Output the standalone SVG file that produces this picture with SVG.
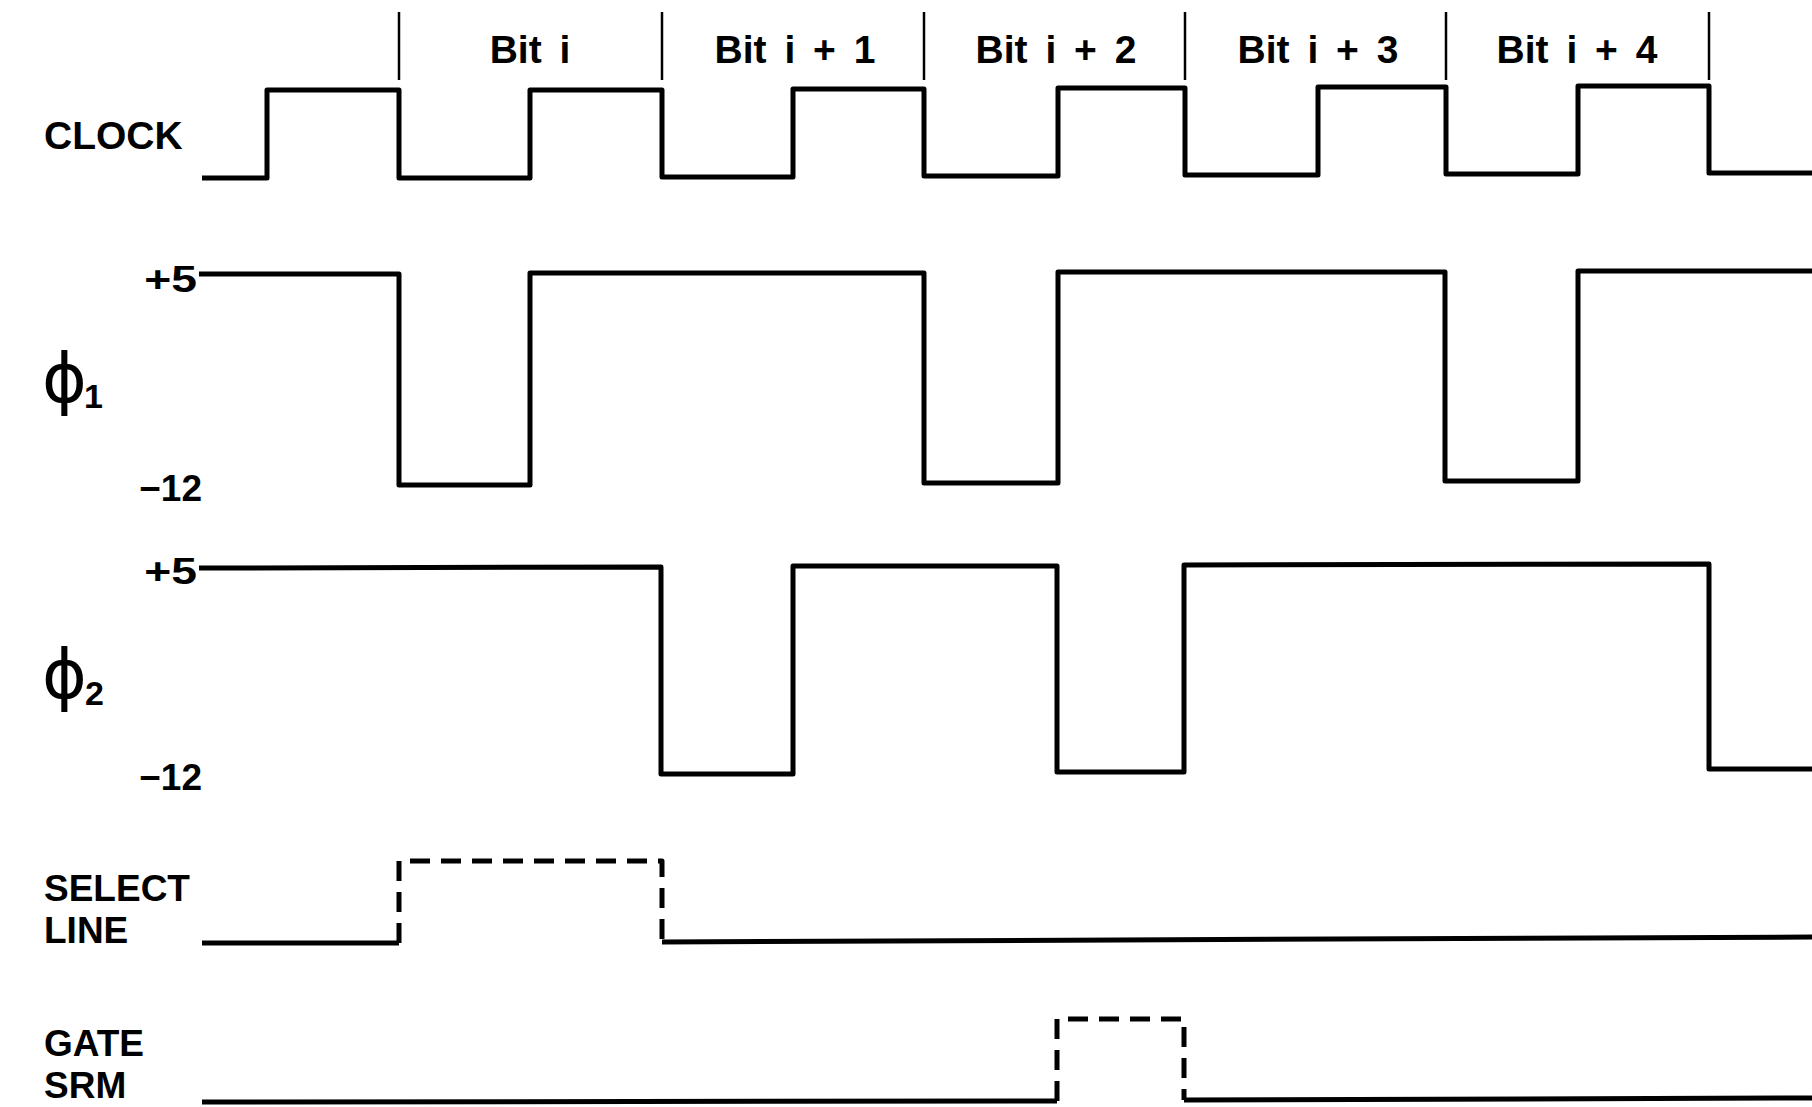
<svg xmlns="http://www.w3.org/2000/svg" width="1812" height="1107" viewBox="0 0 1812 1107">
<style>
.w{fill:none;stroke:#000;stroke-width:5;stroke-linejoin:round;stroke-linecap:butt}
.d{fill:none;stroke:#000;stroke-width:5;stroke-dasharray:20 11;stroke-linejoin:round}
.t{fill:none;stroke:#000;stroke-width:2.5}
.lab{font-family:"Liberation Sans",Arial,sans-serif;font-weight:bold;font-size:39px;fill:#000}
.lab2{font-family:"Liberation Sans",Arial,sans-serif;font-weight:bold;font-size:37px;fill:#000}
.bit{font-family:"Liberation Sans",Arial,sans-serif;font-weight:bold;font-size:39px;fill:#000;text-anchor:middle;word-spacing:7px}
.num{font-family:"Liberation Sans",Arial,sans-serif;font-weight:bold;font-size:37px;fill:#000;text-anchor:end}
.phi{font-family:"DejaVu Sans",sans-serif;font-size:68px;fill:#000}
.sub{font-family:"Liberation Sans",Arial,sans-serif;font-weight:bold;font-size:34px;fill:#000}
</style>
<rect width="1812" height="1107" fill="#fff"/>
<g id="bit-markers">
<line class="t" x1="399" y1="12" x2="399" y2="80"/>
<line class="t" x1="662" y1="12" x2="662" y2="80"/>
<line class="t" x1="924" y1="12" x2="924" y2="80"/>
<line class="t" x1="1185" y1="12" x2="1185" y2="80"/>
<line class="t" x1="1446" y1="12" x2="1446" y2="80"/>
<line class="t" x1="1709" y1="12" x2="1709" y2="80"/>
<text class="bit" x="530" y="63">Bit i</text>
<text class="bit" x="795" y="63">Bit i + 1</text>
<text class="bit" x="1056" y="63">Bit i + 2</text>
<text class="bit" x="1318" y="63">Bit i + 3</text>
<text class="bit" x="1577" y="63">Bit i + 4</text>
</g>
<g id="clock">
<text class="lab" x="44" y="149">CLOCK</text>
<polyline class="w" points="202,178 267,178 267,90 399,90 399,178 530,178 530,90 662,90 662,177 793,177 793,89 924,89 924,176 1058,176 1058,88 1185,88 1185,175 1318,175 1318,87 1446,87 1446,174 1578,174 1578,86 1709,86 1709,173 1812,173"/>
</g>
<g id="phi1">
<text class="phi" x="42" y="402">ϕ</text>
<text class="sub" x="84" y="408">1</text>
<text class="num" transform="translate(197,292) scale(1.25,1)">+5</text>
<text class="num" x="202" y="501">−12</text>
<polyline class="w" points="199,274 399,274 399,485 530,485 530,273 924,273 924,483 1058,483 1058,272 1445,272 1445,481 1578,481 1578,271 1812,271"/>
</g>
<g id="phi2">
<text class="phi" x="42" y="698">ϕ</text>
<text class="sub" x="85" y="705">2</text>
<text class="num" transform="translate(197,584) scale(1.25,1)">+5</text>
<text class="num" x="202" y="790">−12</text>
<polyline class="w" points="199,568 661,567 661,774 793,774 793,566 1057,566 1057,772 1184,772 1184,565 1709,564 1709,769 1812,769"/>
</g>
<g id="select-line">
<text class="lab2" x="44" y="901">SELECT</text>
<text class="lab2" x="44" y="943">LINE</text>
<polyline class="w" points="202,943 399,943"/>
<polyline class="d" points="399,943 399,861 662,861 662,942"/>
<polyline class="w" points="662,942 1812,937"/>
</g>
<g id="gate-srm">
<text class="lab2" x="44" y="1056">GATE</text>
<text class="lab2" x="44" y="1098">SRM</text>
<polyline class="w" points="202,1102 1057,1101"/>
<polyline class="d" points="1057,1101 1057,1019 1184,1019 1184,1100"/>
<polyline class="w" points="1184,1100 1812,1098"/>
</g>
</svg>
